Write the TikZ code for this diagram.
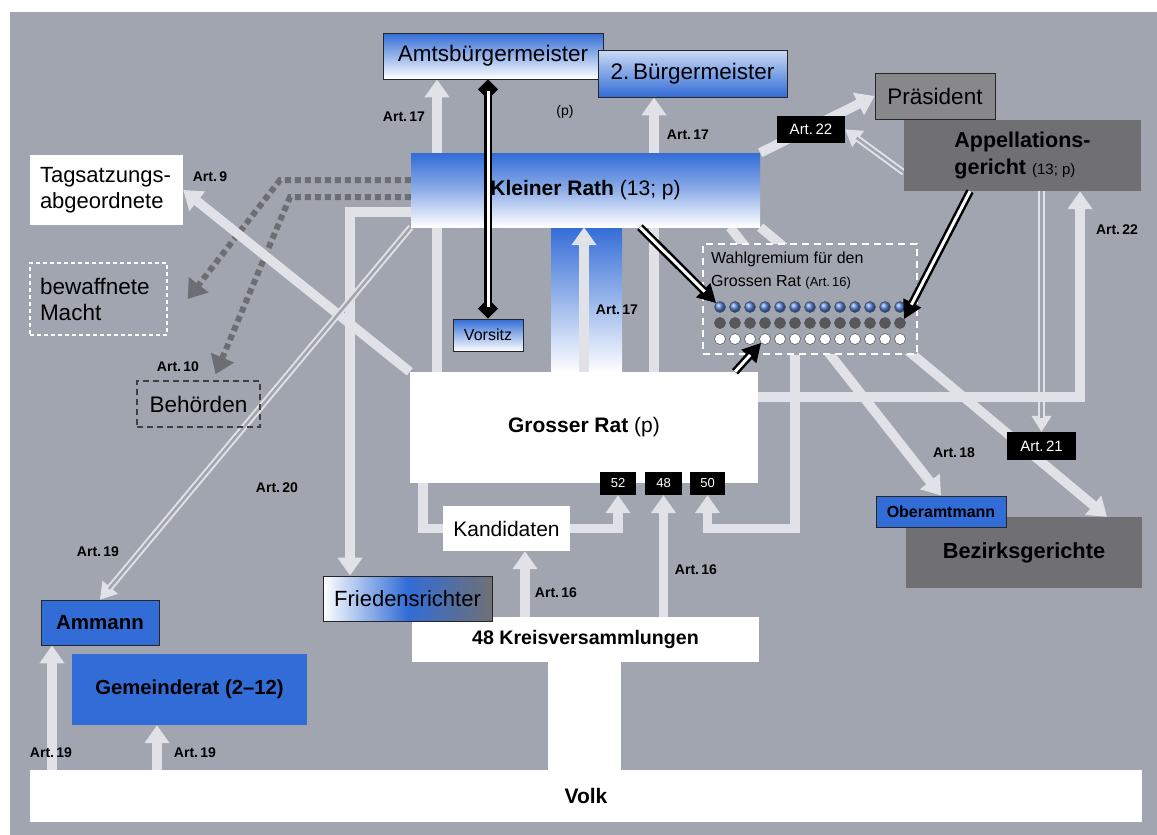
\documentclass[tikz,border=0pt]{standalone}
\usepackage{fontspec}
\setmainfont{Liberation Sans}
\usepackage{tikz}
\usetikzlibrary{arrows.meta}
\pgfdeclarelayer{back}
\pgfdeclarelayer{links}
\pgfsetlayers{back,links,main}

\definecolor{paper}{RGB}{161,165,175}
\definecolor{lite}{RGB}{224,226,232}
\definecolor{kblue}{RGB}{50,108,214}
\definecolor{mgray}{RGB}{136,136,140}
\definecolor{dgray}{RGB}{112,112,116}
\definecolor{dotgray}{RGB}{108,110,116}
\definecolor{seatgray}{RGB}{88,88,92}

\tikzstyle{box} = [draw=black!85, line width=0.8pt, font=\fontsize{22.5}{26}\selectfont]
\tikzstyle{bluebox} = [box, top color=kblue, bottom color=white]
\tikzstyle{plain} = [fill=white, font=\fontsize{22}{26}\selectfont]
\tikzstyle{bold} = [font=\fontsize{21}{25}\selectfont\bfseries]
\tikzstyle{art} = [font=\fontsize{14}{16}\selectfont\bfseries]
\tikzstyle{tag} = [fill=black, text=white, font=\fontsize{15}{16}\selectfont]
\tikzstyle{arrow} = [line width=9.5pt, lite, -{Triangle[width=24pt,length=18pt]}]
\tikzstyle{feed} = [line width=9.5pt, lite]
\tikzstyle{twintip} = [lite, line width=1pt, -{Triangle[width=20pt,length=16pt]}]
\tikzstyle{twin} = [draw=lite, line width=2pt, double=paper, double distance=2.5pt, shorten >=14pt]
\tikzstyle{electtip} = [black, line width=1pt, -{Triangle[width=20pt,length=18pt]}]
\tikzstyle{elect} = [draw=black, line width=2.5pt, double=white, double distance=3pt, shorten >=16pt]
\tikzstyle{chairtip} = [black, line width=1pt, {Diamond[width=20pt,length=20pt]}-{Diamond[width=20pt,length=20pt]}]
\tikzstyle{chair} = [draw=black, line width=2.5pt, double=white, double distance=3pt, shorten <=12pt, shorten >=12pt]
\tikzstyle{order} = [dotgray, line width=6pt, dash pattern=on 6pt off 4pt, -{Triangle[width=24pt,length=18pt]}]
\tikzstyle{seat} = [circle, draw=black!70, line width=0.5pt, minimum size=11pt]

\begin{document}
\begin{tikzpicture}[x=1pt, y=-1pt, every node/.style={inner sep=0pt}]
  \useasboundingbox (0,0) rectangle (1157,835);
  \begin{pgfonlayer}{back}
    \fill[white] (0,0) rectangle (1157,835);
    \fill[paper] (10,12) rectangle (1157,835);
    \shade[top color=kblue, bottom color=white] (551,226) rectangle (622,373);
    \fill[white] (548,660) rectangle (621,772);
  \end{pgfonlayer}

  % Node positions
  \node[bluebox, minimum width=220, minimum height=46] (amt) at (493,56) {Amtsbürgermeister};
  \node[box, top color=kblue!25, bottom color=kblue, minimum width=189, minimum height=47] (zweit) at (692.5,73.5) {2.\,Bürgermeister};
  \node[box, fill=mgray, minimum width=120, minimum height=46] (praes) at (935,96) {Präsident};
  \node[bold, fill=dgray, minimum width=237, minimum height=71, align=left, font=\fontsize{21.5}{27}\selectfont\bfseries] (appell) at (1022.5,155.5) {Appellations-\\gericht {\mdseries\fontsize{15}{27}\selectfont(13; p)}};
  \node[bold, top color=kblue, bottom color=white, middle color=kblue!55, minimum width=349, minimum height=74] (kleiner) at (585.5,190) {Kleiner Rath {\mdseries(13; p)}};
  \node[tag, minimum width=68, minimum height=27] (art22) at (811,129.5) {Art.\,22};

  \node[plain, minimum width=153, minimum height=70, text width=133, align=left] (tag) at (106.5,190) {Tagsatzungs-\\abgeordnete};
  \node[draw=white, line width=1.5pt, dash pattern=on 4pt off 3pt, font=\fontsize{22.5}{26}\selectfont, minimum width=137, minimum height=72, text width=117, align=left] (waffen) at (98.5,299) {bewaffnete\\Macht};
  \node[draw=black!75, line width=1.5pt, dash pattern=on 6pt off 4pt, font=\fontsize{22.5}{26}\selectfont, minimum width=123, minimum height=46] (behoerden) at (198.5,404) {Behörden};
  \node[bluebox, font=\fontsize{16}{18}\selectfont, minimum width=70, minimum height=32] (vorsitz) at (488,335) {Vorsitz};

  \node[fill=paper, draw=white, line width=1.6pt, dash pattern=on 7pt off 5pt, minimum width=214, minimum height=110] (wahl) at (810,299) {};
  \node[anchor=north west, align=left, font=\fontsize{16}{23}\selectfont] (wahltext) at (711,252) {Wahlgremium für den\\Grossen Rat {\fontsize{13}{23}\selectfont(Art.\,16)}};
  \foreach \i in {0,...,12} {
    \node[seat, shading=ball, ball color=kblue!85!white] (b\i) at (720+15*\i,307) {};
    \node[seat, fill=seatgray] (g\i) at (720+15*\i,323) {};
    \node[seat, fill=white] (w\i) at (720+15*\i,339) {};
  }

  \node[plain, bold, minimum width=348, minimum height=111] (grosser) at (584,427.5) {Grosser Rat {\mdseries(p)}};
  \node[tag, minimum width=36, minimum height=23, font=\fontsize{13}{14}\selectfont] (t52) at (618,483.5) {52};
  \node[tag, minimum width=37, minimum height=23, font=\fontsize{13}{14}\selectfont] (t48) at (663.5,483.5) {48};
  \node[tag, minimum width=35, minimum height=23, font=\fontsize{13}{14}\selectfont] (t50) at (707.5,483.5) {50};
  \node[plain, minimum width=127, minimum height=45, font=\fontsize{21}{24}\selectfont] (kand) at (506.5,528.5) {Kandidaten};
  \node[plain, bold, minimum width=347, minimum height=45, font=\fontsize{19.6}{22}\selectfont\bfseries] (kreis) at (585.5,639.5) {48 Kreisversammlungen};
  \node[box, left color=white, right color=dgray, middle color=kblue, minimum width=169, minimum height=45, font=\fontsize{22}{24}\selectfont] (fried) at (407.5,598.5) {Friedensrichter};
  \node[plain, bold, minimum width=1112, minimum height=52] (volk) at (586,796) {Volk};

  \node[box, fill=kblue, font=\fontsize{20.5}{24}\selectfont\bfseries, minimum width=118, minimum height=45] (ammann) at (100,622.5) {Ammann};
  \node[bold, fill=kblue, font=\fontsize{20.3}{24}\selectfont\bfseries, minimum width=235, minimum height=71] (gemeinde) at (189.5,689.5) {Gemeinderat (2–12)};
  \node[bold, fill=dgray, font=\fontsize{21.8}{24}\selectfont\bfseries, minimum width=236, minimum height=71] (bezirk) at (1024,552.5) {Bezirksgerichte};
  \node[box, fill=kblue, font=\fontsize{16}{18}\selectfont\bfseries, minimum width=130, minimum height=31] (ober) at (941,511.5) {Oberamtmann};
  \node[tag, minimum width=69, minimum height=28] (art21) at (1041.5,446) {Art.\,21};

  % Article labels
  \node[art] (l1) at (404,117) {Art.\,17};
  \node[font=\fontsize{14}{16}\selectfont] (l2) at (565,112) {(p)};
  \node[art] (l3) at (688,135) {Art.\,17};
  \node[art] (l4) at (210,177) {Art.\,9};
  \node[art] (l5) at (178,367) {Art.\,10};
  \node[art] (l6) at (277,488) {Art.\,20};
  \node[art] (l7) at (98,552) {Art.\,19};
  \node[art] (l8) at (617,310) {Art.\,17};
  \node[art] (l9) at (1117,230) {Art.\,22};
  \node[art] (l10) at (954,453) {Art.\,18};
  \node[art] (l11) at (556,593) {Art.\,16};
  \node[art] (l12) at (696,570) {Art.\,16};
  \node[art] (l13) at (51,753) {Art.\,19};
  \node[art] (l14) at (195,753) {Art.\,19};

  % Bends and columns
  \coordinate (xa) at (437,0);
  \coordinate (xb) at (654,0);
  \coordinate (xc) at (640,0);
  \coordinate (xd) at (970,0);
  \coordinate (xe) at (735,0);
  \coordinate (xf) at (730,0);
  \coordinate (xg) at (1107,0);
  \coordinate (xh) at (1080,0);
  \coordinate (ya) at (0,397);
  \coordinate (xj) at (795,0);
  \coordinate (xk) at (423,0);
  \coordinate (xl) at (525,0);
  \coordinate (xr) at (52,0);
  \coordinate (xs) at (157,0);
  \coordinate (bend) at (350,212);
  \coordinate (ma) at (280,180);
  \coordinate (mb) at (290,197);

  \begin{pgfonlayer}{links}
    \draw[arrow] (grosser.north -| xa) -- (amt.south -| xa);
    \draw[arrow] (grosser.north -| xb) -- (zweit.south -| xb);
    \draw[arrow] (grosser.north) -- (kleiner.south -| grosser.north);
    \draw[arrow] (kleiner.north east) -- (praes.west);
    \draw[twintip] ([yshift=-17pt]appell.west) -- (art22.east);
    \draw[twin] ([yshift=-17pt]appell.west) -- (art22.east);
    \draw[arrow] (kleiner.south -| xf) -- (ober.north);
    \draw[arrow] (kleiner.south east) -- (bezirk.north -| xg);
    \draw[twintip] (appell.south -| art21.north) -- (art21.north);
    \draw[twin] (appell.south -| art21.north) -- (art21.north);
    \draw[arrow] (grosser.east |- ya) -| (appell.south -| xh);
    \draw[arrow] (wahl.south -| xj) |- (kand.east -| t50.south) -- (t50.south);
    \draw[arrow] (kreis.north -| t48.south) -- (t48.south);
    \draw[arrow] (kand.east) -| (t52.south);
    \draw[feed] (grosser.south -| xk) |- (kand.west);
    \draw[arrow] (kreis.north -| xl) -- (kand.south -| xl);
    \draw[arrow] (kleiner.west |- bend) -- (bend) -- (fried.north -| bend);
    \draw[order] (kleiner.west |- ma) -- (ma) -- ([xshift=20pt]waffen.east);
    \draw[order] (kleiner.west |- mb) -- (mb) -- ([xshift=17pt,yshift=6pt]behoerden.north);
    \draw[arrow] (grosser.north west) -- (tag.east);
    \draw[twintip] (kleiner.south west) -- (ammann.north);
    \draw[twin] (kleiner.south west) -- (ammann.north);
    \draw[arrow] (volk.north -| xr) -- (ammann.south -| xr);
    \draw[arrow] (volk.north -| xs) -- (gemeinde.south -| xs);
  \end{pgfonlayer}

  \draw[chairtip] (amt.south -| vorsitz.north) -- (vorsitz.north);
  \draw[chair] (amt.south -| vorsitz.north) -- (vorsitz.north);
  \draw[electtip] (kleiner.south -| xc) -- (b0.north west);
  \draw[elect] (kleiner.south -| xc) -- (b0.north west);
  \draw[electtip] (appell.south -| xd) -- (g12.north east);
  \draw[elect] (appell.south -| xd) -- (g12.north east);
  \draw[electtip] (grosser.north -| xe) -- (w3.south west);
  \draw[elect] (grosser.north -| xe) -- (w3.south west);
\end{tikzpicture}
\end{document}
